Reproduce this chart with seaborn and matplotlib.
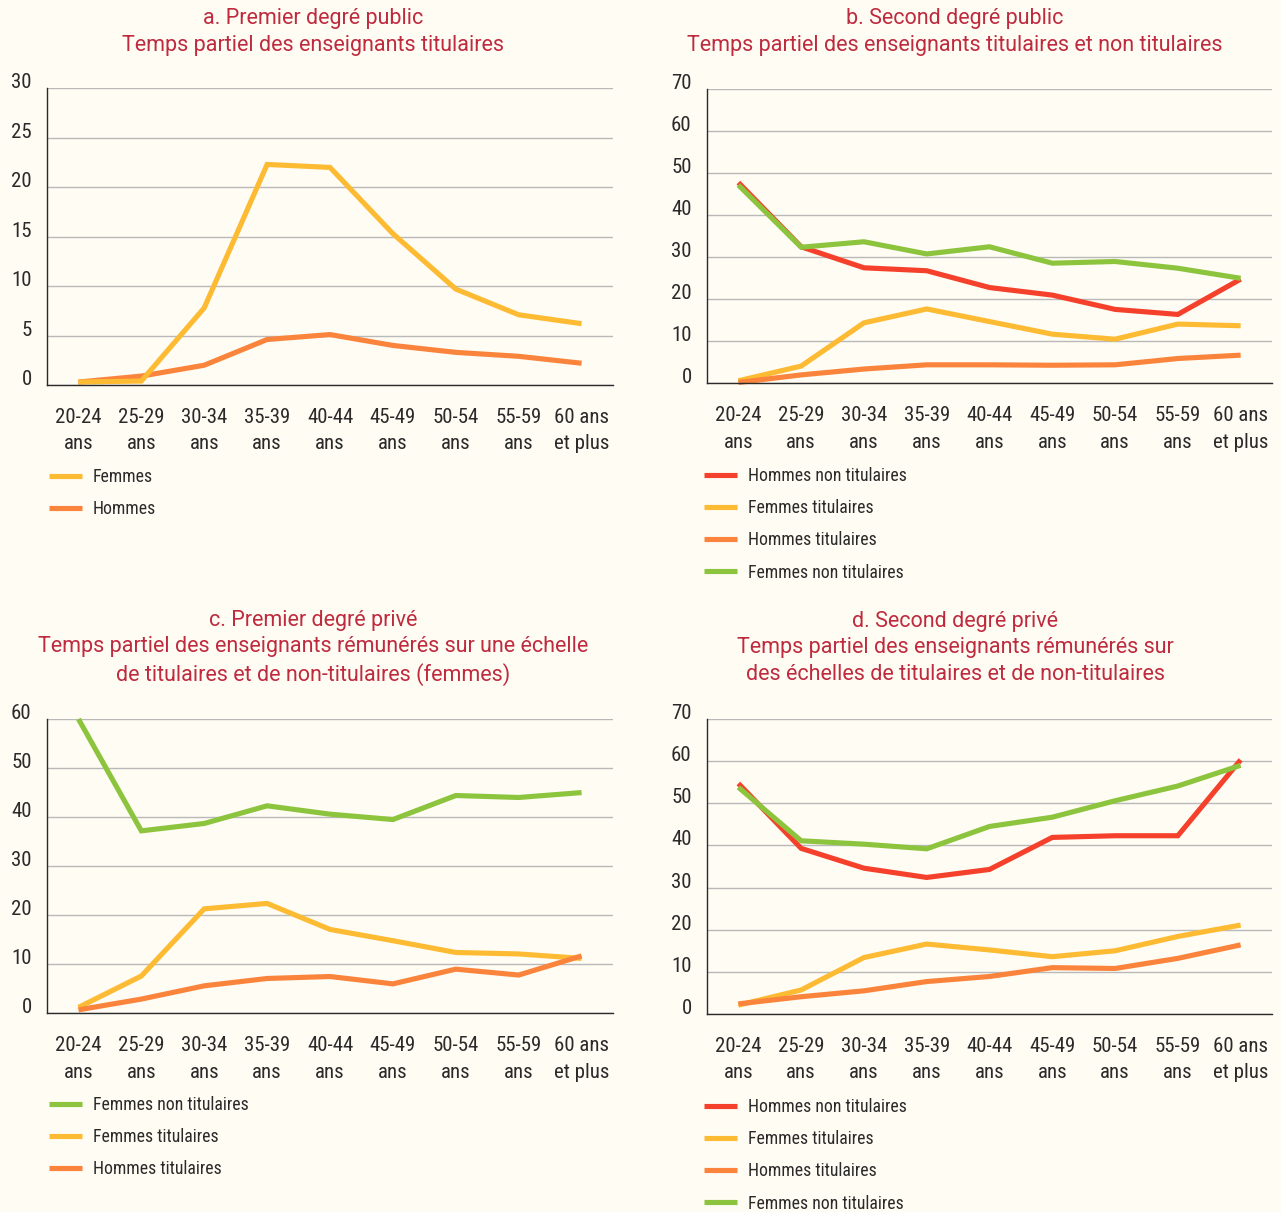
import numpy as np
import pandas as pd
import seaborn as sns
import matplotlib.pyplot as plt
from matplotlib.lines import Line2D
from matplotlib import font_manager

# ---------------- data ----------------
ages = ["20-24\nans", "25-29\nans", "30-34\nans", "35-39\nans", "40-44\nans",
        "45-49\nans", "50-54\nans", "55-59\nans", "60 ans\net plus"]

a_femmes = [0.3, 0.4, 7.8, 22.3, 22.0, 15.3, 9.7, 7.1, 6.2]
a_hommes = [0.3, 0.9, 2.0, 4.6, 5.1, 4.0, 3.3, 2.9, 2.2]

b_hommes_non_tit = [47.8, 32.5, 27.5, 26.8, 22.8, 21.0, 17.6, 16.4, 24.8]
b_femmes_tit = [0.6, 4.1, 14.4, 17.7, 14.7, 11.7, 10.5, 14.1, 13.7]
b_hommes_tit = [0.2, 2.0, 3.4, 4.4, 4.4, 4.3, 4.4, 5.9, 6.7]
b_femmes_non_tit = [47.2, 32.4, 33.7, 30.8, 32.5, 28.6, 29.0, 27.4, 25.0]

c_femmes_non_tit = [60.0, 37.2, 38.7, 42.3, 40.6, 39.5, 44.4, 44.0, 45.0]
c_femmes_tit = [1.2, 7.6, 21.3, 22.4, 17.1, 14.8, 12.4, 12.1, 11.2]
c_hommes_tit = [0.7, 2.9, 5.6, 7.1, 7.5, 6.0, 9.0, 7.8, 11.7]

d_hommes_non_tit = [54.7, 39.3, 34.6, 32.4, 34.3, 41.9, 42.3, 42.3, 60.3]
d_femmes_tit = [2.1, 5.7, 13.4, 16.6, 15.2, 13.6, 15.0, 18.4, 21.1]
d_hommes_tit = [2.4, 4.1, 5.5, 7.7, 8.9, 11.0, 10.8, 13.2, 16.4]
d_femmes_non_tit = [53.8, 41.1, 40.3, 39.2, 44.5, 46.7, 50.6, 54.1, 59.0]

titles = {
    "a": "a. Premier degré public\nTemps partiel des enseignants titulaires",
    "b": "b. Second degré public\nTemps partiel des enseignants titulaires et non titulaires",
    "c": "c. Premier degré privé\nTemps partiel des enseignants rémunérés sur une échelle\nde titulaires et de non-titulaires (femmes)",
    "d": "d. Second degré privé\nTemps partiel des enseignants rémunérés sur\ndes échelles de titulaires et de non-titulaires",
}

# ---------------- style ----------------
BG = "#FFFCF4"
YEL = "#FDBB33"
ORA = "#FA843B"
RED = "#F5412B"
GRN = "#8DC43D"
TITLE_C = "#BE2A3E"
TXT = "#2A2A2A"

sns.set_theme(style="white")
names = {f.name for f in font_manager.fontManager.ttflist}
COND = None
for cand in ["Roboto Condensed", "Liberation Sans Narrow", "Archivo Narrow"]:
    if cand in names:
        COND = dict(family=cand)
        break
if COND is None:
    COND = dict(family="DejaVu Sans", stretch="condensed")
plt.rcParams["font.family"] = ["Roboto", "DejaVu Sans"]

W, H = 1281, 1212
fig = plt.figure(figsize=(W / 100, H / 100), dpi=100, facecolor=BG)


def rect(l, t, r, b):
    return [l / W, 1 - b / H, (r - l) / W, (b - t) / H]


LW = 3.7


def make_panel(key, box, series, draw_order, legend_order, ymax, ystep,
               title_xy, legend_xy):
    ax = fig.add_axes(rect(*box))
    ax.set_facecolor(BG)
    rows = []
    for name, (vals, col) in series.items():
        for i, v in enumerate(vals):
            rows.append({"pos": i, "age": ages[i], "serie": name, "val": v})
    df = pd.DataFrame(rows)
    for name in draw_order:
        sub = df[df["serie"] == name]
        sns.lineplot(data=sub, x="pos", y="val", color=series[name][1],
                     linewidth=LW, ax=ax, sort=True, estimator=None,
                     solid_capstyle="butt", solid_joinstyle="miter",
                     clip_on=False)
    ax.set_xlabel("")
    ax.set_ylabel("")
    ax.set_xlim(-0.5, 8.5)
    ax.set_ylim(0, ymax)
    # y axis
    ax.set_yticks(np.arange(0, ymax + 0.1, ystep))
    ax.yaxis.grid(True, color="#B9B9B9", linewidth=1.0)
    ax.set_axisbelow(True)
    ax.tick_params(axis="y", which="major", direction="out", length=6,
                   width=1, color=TXT, pad=5, labelcolor=TXT)
    for lab in ax.get_yticklabels():
        lab.set_fontsize(15)
        lab.set_fontfamily(COND["family"])
        if "stretch" in COND:
            lab.set_fontstretch(COND["stretch"])
        lab.set_va("baseline")
    # x axis: boundary ticks (major) + centered labels (minor)
    ax.set_xticks(np.arange(-0.5, 9, 1))
    ax.set_xticklabels([])
    ax.set_xticks(np.arange(9), labels=ages, minor=True)
    ax.tick_params(axis="x", which="major", direction="out", length=9.5,
                   width=1, color=TXT)
    ax.tick_params(axis="x", which="minor", length=0, pad=16.5, labelcolor=TXT)
    for lab in ax.get_xticklabels(minor=True):
        lab.set_fontsize(15)
        lab.set_fontfamily(COND["family"])
        if "stretch" in COND:
            lab.set_fontstretch(COND["stretch"])
        lab.set_linespacing(1.5)
    for s in ["top", "right"]:
        ax.spines[s].set_visible(False)
    for s in ["left", "bottom"]:
        ax.spines[s].set_color(TXT)
        ax.spines[s].set_linewidth(1.0)
    # title
    fig.text(title_xy[0] / W, 1 - title_xy[1] / H, titles[key], ha="center",
             va="center", color=TITLE_C, fontsize=15.5, linespacing=1.33,
             family=["Roboto", "DejaVu Sans"])
    # legend
    handles = [Line2D([], [], color=series[n][1], linewidth=LW,
                      solid_capstyle="butt") for n in legend_order]
    leg = ax.legend(handles, legend_order, loc="upper left",
                    bbox_to_anchor=(legend_xy[0] / W, 1 - legend_xy[1] / H),
                    bbox_transform=fig.transFigure, frameon=False,
                    borderpad=0, borderaxespad=0, handlelength=1.85,
                    handletextpad=0.62, labelspacing=0.8,
                    prop=dict(size=12.8, **COND))
    for t in leg.get_texts():
        t.set_color(TXT)
    return ax


make_panel("a", (47, 88.3, 613, 385),
           {"Femmes": (a_femmes, YEL), "Hommes": (a_hommes, ORA)},
           ["Hommes", "Femmes"], ["Femmes", "Hommes"], 30, 5,
           (313, 32), (49, 468))

make_panel("b", (707, 89.3, 1272, 383.3),
           {"Hommes non titulaires": (b_hommes_non_tit, RED),
            "Femmes titulaires": (b_femmes_tit, YEL),
            "Hommes titulaires": (b_hommes_tit, ORA),
            "Femmes non titulaires": (b_femmes_non_tit, GRN)},
           ["Hommes non titulaires", "Femmes titulaires", "Hommes titulaires",
            "Femmes non titulaires"],
           ["Hommes non titulaires", "Femmes titulaires", "Hommes titulaires",
            "Femmes non titulaires"], 70, 10,
           (955, 32), (704, 467))

make_panel("c", (47, 719, 613, 1013.3),
           {"Femmes non titulaires": (c_femmes_non_tit, GRN),
            "Femmes titulaires": (c_femmes_tit, YEL),
            "Hommes titulaires": (c_hommes_tit, ORA)},
           ["Femmes non titulaires", "Femmes titulaires", "Hommes titulaires"],
           ["Femmes non titulaires", "Femmes titulaires", "Hommes titulaires"],
           60, 10, (313, 648), (49, 1096))

make_panel("d", (707, 719, 1272, 1014),
           {"Hommes non titulaires": (d_hommes_non_tit, RED),
            "Femmes titulaires": (d_femmes_tit, YEL),
            "Hommes titulaires": (d_hommes_tit, ORA),
            "Femmes non titulaires": (d_femmes_non_tit, GRN)},
           ["Hommes non titulaires", "Femmes titulaires", "Hommes titulaires",
            "Femmes non titulaires"],
           ["Hommes non titulaires", "Femmes titulaires", "Hommes titulaires",
            "Femmes non titulaires"], 70, 10,
           (955, 648), (704, 1098))

fig.savefig("out.png", dpi=100, facecolor=BG)
